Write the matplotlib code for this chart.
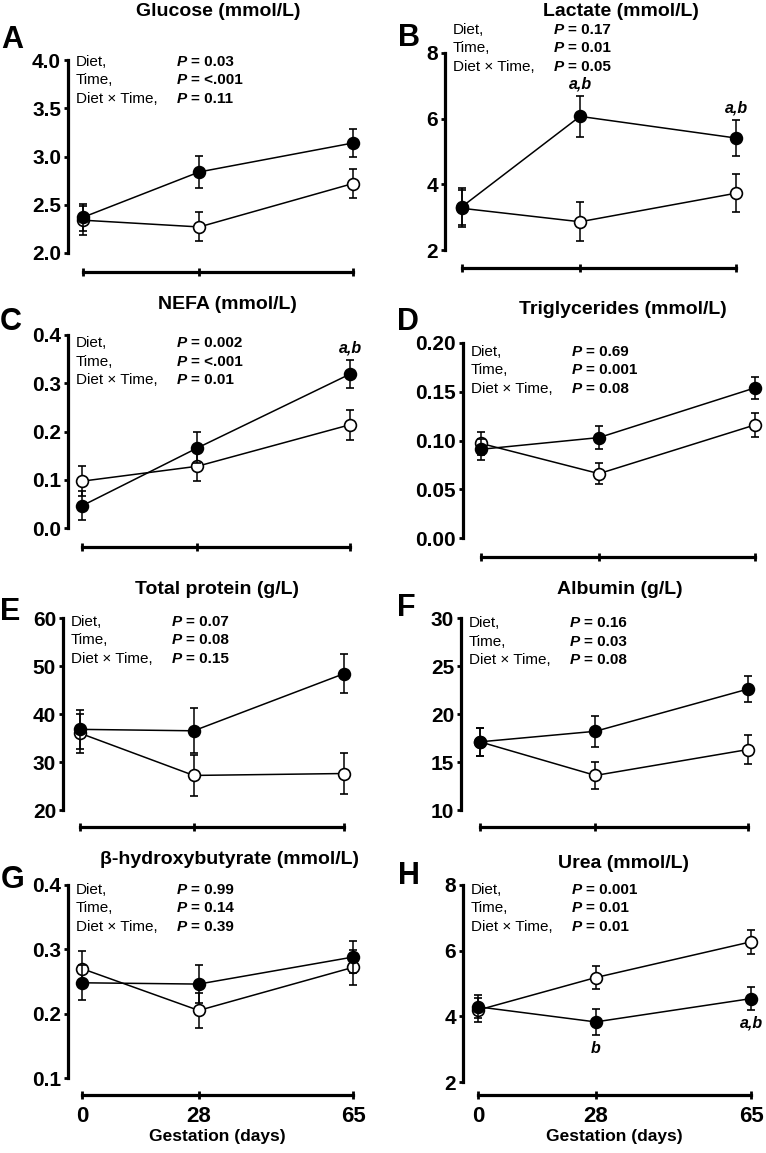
import numpy as np
import matplotlib
matplotlib.use("Agg")
import matplotlib.pyplot as plt

plt.rcParams['font.family'] = ['Liberation Sans', 'DejaVu Sans']

# ---------------------
# Data (mean and SEM)
# filled = solid circles, hollow = open circles

days = [0, 28, 65]

glucose_filled = [2.37, 2.84, 3.14]
glucose_filled_sem = [0.14, 0.17, 0.14]
glucose_hollow = [2.34, 2.27, 2.72]
glucose_hollow_sem = [0.15, 0.15, 0.15]

lactate_filled = [3.32, 6.07, 5.41]
lactate_filled_sem = [0.57, 0.63, 0.55]
lactate_hollow = [3.27, 2.86, 3.73]
lactate_hollow_sem = [0.57, 0.59, 0.58]

nefa_filled = [0.046, 0.166, 0.319]
nefa_filled_sem = [0.030, 0.032, 0.029]
nefa_hollow = [0.097, 0.128, 0.214]
nefa_hollow_sem = [0.031, 0.031, 0.031]

tg_filled = [0.091, 0.103, 0.154]
tg_filled_sem = [0.011, 0.012, 0.011]
tg_hollow = [0.097, 0.066, 0.116]
tg_hollow_sem = [0.012, 0.011, 0.012]

protein_filled = [36.8, 36.5, 48.4]
protein_filled_sem = [4.0, 4.7, 4.0]
protein_hollow = [36.0, 27.2, 27.6]
protein_hollow_sem = [4.1, 4.3, 4.3]

albumin_filled = [17.1, 18.2, 22.6]
albumin_filled_sem = [1.45, 1.6, 1.4]
albumin_hollow = [17.1, 13.6, 16.3]
albumin_hollow_sem = [1.45, 1.45, 1.5]

bhb_filled = [0.248, 0.246, 0.288]
bhb_filled_sem = [0.027, 0.030, 0.025]
bhb_hollow = [0.270, 0.205, 0.272]
bhb_hollow_sem = [0.027, 0.027, 0.027]

urea_filled = [4.29, 3.83, 4.54]
urea_filled_sem = [0.35, 0.40, 0.36]
urea_hollow = [4.19, 5.18, 6.27]
urea_hollow_sem = [0.37, 0.35, 0.36]

titles = ["Glucose (mmol/L)", "Lactate (mmol/L)", "NEFA (mmol/L)",
          "Triglycerides (mmol/L)", "Total protein (g/L)", "Albumin (g/L)",
          "\u03b2-hydroxybutyrate (mmol/L)", "Urea (mmol/L)"]
letters = ["A", "B", "C", "D", "E", "F", "G", "H"]

# P values: diet, time, diet x time
p_diet = ["0.03", "0.17", "0.002", "0.69", "0.07", "0.16", "0.99", "0.001"]
p_time = ["<.001", "0.01", "<.001", "0.001", "0.08", "0.03", "0.14", "0.01"]
p_inter = ["0.11", "0.05", "0.01", "0.08", "0.15", "0.08", "0.39", "0.01"]

y_ticks = [[2.0, 2.5, 3.0, 3.5, 4.0], [2, 4, 6, 8], [0.0, 0.1, 0.2, 0.3, 0.4],
           [0.00, 0.05, 0.10, 0.15, 0.20], [20, 30, 40, 50, 60],
           [10, 15, 20, 25, 30], [0.1, 0.2, 0.3, 0.4], [2, 4, 6, 8]]
y_fmt = ["%.1f", "%d", "%.1f", "%.2f", "%d", "%d", "%.1f", "%d"]

# significance letters on the filled series: (panel, day index, text, side)
sig_panel = [1, 1, 2, 7, 7]
sig_day = [1, 2, 2, 1, 2]
sig_text = ["a,b", "a,b", "a,b", "b", "a,b"]
sig_side = ["above", "above", "above", "below", "below"]

series = [
    (glucose_filled, glucose_filled_sem, glucose_hollow, glucose_hollow_sem),
    (lactate_filled, lactate_filled_sem, lactate_hollow, lactate_hollow_sem),
    (nefa_filled, nefa_filled_sem, nefa_hollow, nefa_hollow_sem),
    (tg_filled, tg_filled_sem, tg_hollow, tg_hollow_sem),
    (protein_filled, protein_filled_sem, protein_hollow, protein_hollow_sem),
    (albumin_filled, albumin_filled_sem, albumin_hollow, albumin_hollow_sem),
    (bhb_filled, bhb_filled_sem, bhb_hollow, bhb_hollow_sem),
    (urea_filled, urea_filled_sem, urea_hollow, urea_hollow_sem),
]

# ---------------------
# Layout in pixels: data box (left, right, top, bottom), spine offsets,
# title centre, letter centre, first stats row

W, H = 766, 1153
boxes = [(83, 353, 60, 253), (462, 736, 53, 250), (82, 350, 335, 528),
         (481, 755, 343, 538), (80, 344, 618, 810), (480, 748, 618, 810),
         (82, 353, 885, 1078), (478, 751, 885, 1082)]
left_off = [15, 17, 14, 18, 17, 19, 14, 15]
bottom_off = [19, 18, 19, 19, 17, 17, 17, 13]
title_pos = [(218, 11), (621, 12), (227, 305), (623, 310),
             (217, 590), (620, 590), (230, 859), (623, 864)]
letter_pos = [(12, 40), (409, 38), (11, 322), (408, 322),
              (10, 612), (406, 608), (13, 880), (409, 876)]
stats_y0 = [62, 30, 343, 352, 622, 623, 890, 890]


def px(x, y):
    return x / W, 1 - y / H


fig = plt.figure(figsize=(W / 100, H / 100), dpi=100)

for i in range(8):
    L, R, T, B = boxes[i]
    ax = fig.add_axes([L / W, 1 - B / H, (R - L) / W, (B - T) / H])
    f, fs, o, os_ = series[i]

    ax.plot(days, o, color='black', lw=1.1, zorder=2)
    ax.plot(days, f, color='black', lw=1.1, zorder=2)
    ax.errorbar(days, o, yerr=os_, fmt='o', color='black', mfc='white',
                mec='black', mew=1.2, ms=8.5, elinewidth=1.1, capsize=3,
                capthick=1.1, zorder=3)
    ax.errorbar(days, f, yerr=fs, fmt='o', color='black', mfc='black',
                mec='black', mew=1.2, ms=8.5, elinewidth=1.1, capsize=3,
                capthick=1.1, zorder=4)
    for art in ax.lines + ax.collections:
        art.set_clip_on(False)

    yt = y_ticks[i]
    ax.set_xlim(0, 65)
    ax.set_ylim(yt[0], yt[-1])
    ax.set_yticks(yt)
    ax.set_yticklabels([y_fmt[i] % v for v in yt])
    ax.set_xticks(days)

    for s in ['top', 'right']:
        ax.spines[s].set_visible(False)
    ax.spines['left'].set_position(('outward', left_off[i] * 0.72))
    ax.spines['bottom'].set_position(('outward', bottom_off[i] * 0.72))
    ax.spines['left'].set_bounds(yt[0], yt[-1])
    ax.spines['bottom'].set_bounds(0, 65)
    ax.spines['left'].set_linewidth(2.3)
    ax.spines['bottom'].set_linewidth(2.3)
    ax.patch.set_visible(False)

    ax.tick_params(axis='y', direction='out', length=3, width=2, pad=2,
                   labelsize=15)
    ax.tick_params(axis='x', direction='inout', length=6, width=2, pad=5,
                   labelsize=16)
    for lab in ax.get_yticklabels() + ax.get_xticklabels():
        lab.set_fontweight('bold')

    if i >= 6:
        ax.set_xlabel("Gestation (days)", fontsize=12.5, fontweight='bold',
                      labelpad=1)
    else:
        ax.tick_params(axis='x', labelbottom=False)

    # title and panel letter
    tx, ty = title_pos[i]
    fig.text(*px(tx, ty), titles[i], ha='center', va='center',
             fontsize=14, fontweight='bold')
    lx, ly = letter_pos[i]
    fig.text(*px(lx, ly), letters[i], ha='center', va='center',
             fontsize=22, fontweight='bold')

    # stats block
    sx = L - left_off[i] + 8
    rows = [("Diet,", p_diet[i]), ("Time,", p_time[i]),
            ("Diet \u00d7 Time,", p_inter[i])]
    for r, (name, pv) in enumerate(rows):
        yy = stats_y0[i] + r * 18.5
        fig.text(*px(sx, yy), name, ha='left', va='center', fontsize=11)
        fig.text(*px(sx + 101, yy), "P", ha='left', va='center',
                 fontsize=11, fontweight='bold', fontstyle='italic')
        fig.text(*px(sx + 115, yy), "= " + pv, ha='left', va='center',
                 fontsize=11, fontweight='bold')

# significance letters
axes = fig.axes
for k in range(len(sig_panel)):
    p = sig_panel[k]
    d = sig_day[k]
    ax = axes[p]
    f, fs, o, os_ = series[p]
    if sig_side[k] == "above":
        yv = f[d] + fs[d]
        off, va = 3, 'bottom'
    else:
        yv = f[d] - fs[d]
        off, va = -4, 'top'
    ax.annotate(sig_text[k], xy=(days[d], yv), xytext=(0, off),
                textcoords='offset points', ha='center', va=va,
                fontsize=11.5, fontweight='bold', fontstyle='italic',
                annotation_clip=False)

fig.savefig("out.png", dpi=100)
